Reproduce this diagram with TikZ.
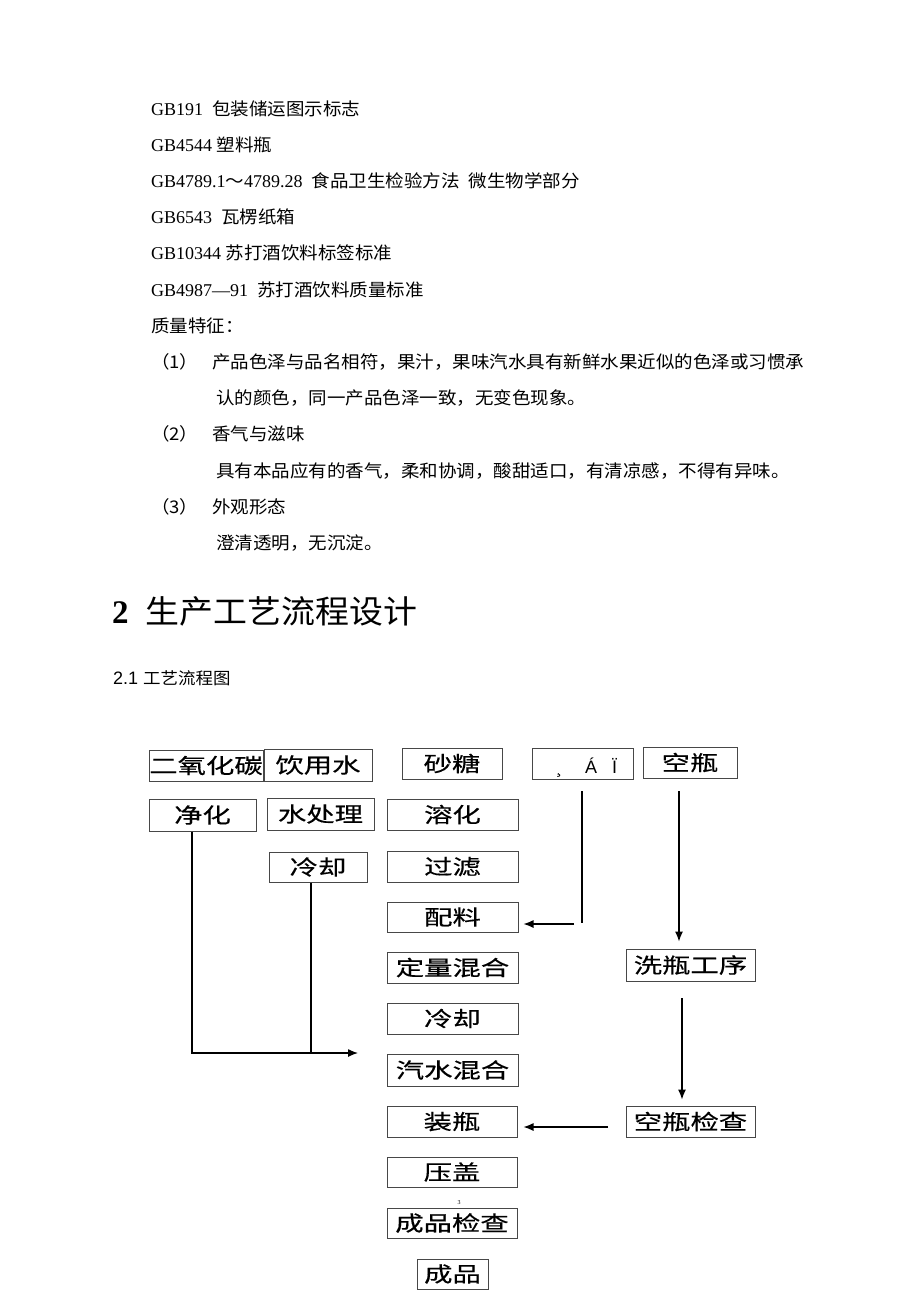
\documentclass[tikz,border=0pt]{standalone}
\usepackage{fontspec}
\setmainfont{Liberation Serif}
\newfontfamily\cjk[FakeStretch=1.06,Scale=0.97]{Noto Sans CJK SC}
\newfontfamily\boxcjk[FakeStretch=1.35,FakeBold=0.4]{Noto Sans CJK SC}
\newfontfamily\arialS{Liberation Sans}
\usetikzlibrary{arrows.meta}
\tikzset{
  body/.style={anchor=base west, inner sep=0pt, font=\fontsize{18}{20}\selectfont},
  box/.style={draw=black!72, line width=1pt, inner sep=0pt, font=\boxcjk\fontsize{21}{24}\selectfont},
  conn/.style={draw=black, line width=1.2pt},
  arr/.style={-{Latex[length=10pt,width=8pt]}}
}
\newcommand\bx[6]{\node[box,minimum width=#4pt,minimum height=#5pt] (#1) at (#2,#3) {#6};}
\begin{document}
\begin{tikzpicture}[x=1pt,y=-1pt]
\fill[white] (0,0) rectangle (920,1302);
\useasboundingbox (0,0) rectangle (920,1302);
% ---- body text ----
\node[body] (t1) at (151,115) {GB191\ \ {\cjk 包装储运图示标志}};
\node[body] (t2) at (151,151.2) {GB4544 {\cjk 塑料瓶}};
\node[body] (t3) at (151,187.4) {GB4789.1{\cjk ～}4789.28\ \ {\cjk 食品卫生检验方法}\ \ {\cjk 微生物学部分}};
\node[body] (t4) at (151,223.6) {GB6543\ \ {\cjk 瓦楞纸箱}};
\node[body] (t5) at (151,259.8) {GB10344 {\cjk 苏打酒饮料标签标准}};
\node[body] (t6) at (151,296) {GB4987—91\ \ {\cjk 苏打酒饮料质量标准}};
\node[body] (t7) at (151,332.2) {\cjk 质量特征：};
\node[body] (n1) at (151,368.4) {\cjk （1）};
\node[body] (t8) at (212,368.4) {\cjk 产品色泽与品名相符，果汁，果味汽水具有新鲜水果近似的色泽或习惯承};
\node[body] (t9) at (216,404.6) {\cjk 认的颜色，同一产品色泽一致，无变色现象。};
\node[body] (n2) at (151,440.8) {\cjk （2）};
\node[body] (t10) at (212,440.8) {\cjk 香气与滋味};
\node[body] (t11) at (216,477) {\cjk 具有本品应有的香气，柔和协调，酸甜适口，有清凉感，不得有异味。};
\node[body] (n3) at (151,513.2) {\cjk （3）};
\node[body] (t12) at (212,513.2) {\cjk 外观形态};
\node[body] (t13) at (216,549.4) {\cjk 澄清透明，无沉淀。};
\node[anchor=base west, inner sep=0pt, font=\fontsize{33}{36}\selectfont] (h1) at (112,623) {\textbf{2}\hspace{17pt}{\cjk 生产工艺流程设计}};
\node[anchor=base west, inner sep=0pt, font=\arialS\fontsize{18}{20}\selectfont] (h2) at (113,684) {2.1 {\cjk\fontsize{17}{20}\selectfont 工艺流程图}};
% ---- boxes ----
\bx{co2}{206}{765.5}{114}{31}{二氧化碳}
\bx{water}{318}{765}{108}{32}{饮用水}
\bx{sugar}{452}{763.5}{100}{31}{砂糖}
\bx{raw}{582.5}{763.5}{101}{31}{}
\node[anchor=base west, inner sep=0pt, font=\arialS\fontsize{18}{20}\selectfont] (rawtxt) at (556,773) {¸\hspace{23pt}Á\hspace{15pt}Ï};
\bx{bottle}{690}{762.5}{94}{31}{空瓶}
\bx{purify}{202.5}{815}{107}{32}{净化}
\bx{treat}{320.5}{814}{107}{32}{水处理}
\bx{dissolve}{452.5}{814.5}{131}{31}{溶化}
\bx{coolA}{318}{867}{98}{30}{冷却}
\bx{filter}{452.5}{866.5}{131}{31}{过滤}
\bx{mix}{452.5}{917}{131}{30}{配料}
\bx{dose}{452.5}{967.5}{131}{31}{定量混合}
\bx{coolB}{452.5}{1018.5}{131}{31}{冷却}
\bx{carb}{452.5}{1070}{131}{32}{汽水混合}
\bx{fill}{452}{1121.5}{130}{31}{装瓶}
\bx{capping}{452}{1172}{130}{30}{压盖}
\bx{inspect}{452}{1223}{130}{30}{成品检查}
\bx{product}{452.5}{1274}{71}{30}{成品}
\bx{wash}{690.5}{965}{129}{32}{洗瓶工序}
\bx{binspect}{690.5}{1121.5}{129}{31}{空瓶检查}
\node[inner sep=0pt, font=\fontsize{6}{7}\selectfont] (pg) at (459,1203) {3};
% ---- connectors ----
\coordinate (pj) at (192,1053);
\coordinate (cj) at (311,1053);
\coordinate (pend) at (358,1053);
\draw[conn,arr] (purify.south -| pj) -- (pj) -- (pend);
\draw[conn] (coolA.south -| cj) -- (cj);
\coordinate (rtop) at (582,791);
\coordinate (rbot) at (582,923);
\draw[conn] (rtop) -- (rbot);
\coordinate (rstart) at (574,924);
\coordinate (mixin) at ([xshift=5pt]mix.east);
\draw[conn,arr] (rstart) -- (mixin |- rstart);
\coordinate (btop) at (679,791);
\coordinate (washin) at ([yshift=7pt]wash.north);
\draw[conn,arr] (btop) -- (washin -| btop);
\coordinate (w1) at (682,998);
\coordinate (bin) at ([yshift=6pt]binspect.north);
\draw[conn,arr] (w1) -- (bin -| w1);
\coordinate (k1) at (608,1127);
\coordinate (fillin) at ([xshift=6pt]fill.east);
\draw[conn,arr] (k1) -- (fillin |- k1);
\end{tikzpicture}
\end{document}
